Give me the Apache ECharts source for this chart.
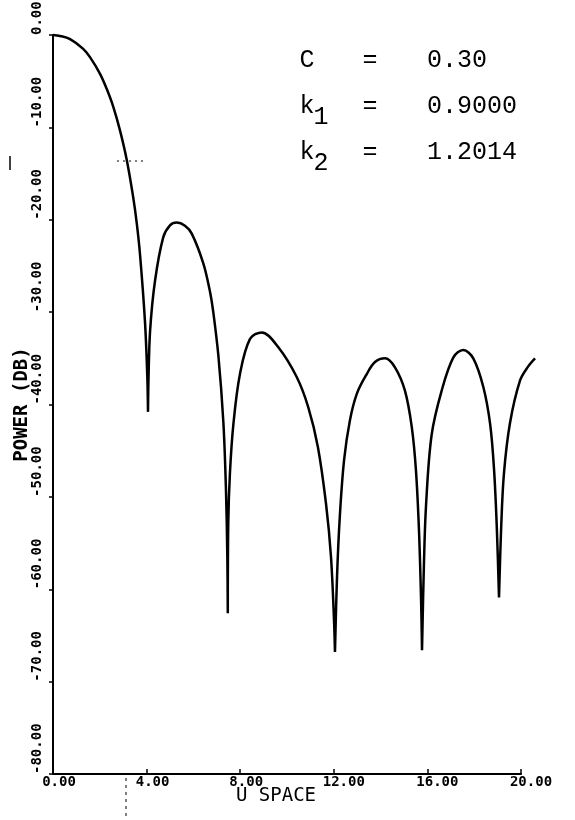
<!DOCTYPE html>
<html>
<head>
<meta charset="utf-8">
<script src="https://cdn.jsdelivr.net/npm/echarts@6/dist/echarts.min.js"></script>
<style>
html,body{margin:0;padding:0;background:#fff;}
#chart{width:575px;height:820px;}
</style>
</head>
<body>
<div id="chart"></div>
<script>
// U space positions (x) and power in dB (y)
var uValues = [
  0, 0.30, 0.73, 1.29, 1.58, 2.01, 2.29, 2.58, 2.86, 3.15, 3.43, 3.58, 3.72, 3.93, 4.03, 4.06,
  4.08, 4.15, 4.36, 4.71, 5.00, 5.29, 5.64, 5.93, 6.42, 6.71, 6.85, 7.07, 7.28, 7.39, 7.45, 7.47,
  7.49, 7.56, 7.71, 7.99, 8.42, 8.92, 9.63, 10.41, 10.91, 11.32, 11.67, 11.88, 12.01, 12.05,
  12.14, 12.26, 12.44, 12.69, 12.99, 13.41, 13.76, 14.19, 14.62, 15.04, 15.33, 15.51, 15.64, 15.73, 15.77,
  15.85, 15.94, 16.18, 16.61, 17.11, 17.53, 17.96, 18.39, 18.68, 18.85, 18.97, 19.06,
  19.15, 19.27, 19.53, 19.96, 20.30, 20.60
];
var powerDb = [
  0, -0.1, -0.45, -1.5, -2.4, -4.2, -5.8, -7.8, -10.3, -13.5, -17.6, -20.4, -23.8, -31.0, -37.0, -40.8,
  -37.4, -32.0, -26.6, -21.9, -20.6, -20.3, -20.65, -21.5, -24.7, -27.8, -30.0, -34.8, -41.9, -49.1, -56.5, -62.6,
  -52.9, -47.5, -42.1, -36.7, -32.9, -32.2, -33.8, -37.0, -40.3, -44.6, -50.8, -56.5, -63.4, -66.8,
  -58.5, -52.0, -46.0, -41.7, -38.8, -36.7, -35.4, -35.0, -36.0, -38.5, -42.4, -47.1, -53.6, -61.2, -66.6,
  -57.5, -51.0, -43.3, -38.5, -34.9, -34.1, -35.0, -38.1, -42.1, -47.1, -53.6, -60.9,
  -53.5, -47.5, -42.0, -37.4, -35.9, -35.0
];
var xTicks = [0, 4, 8, 12, 16, 20];
var yTicks = [0, -10, -20, -30, -40, -50, -60, -70, -80];
var paramNames = ['C', 'k', 'k'];
var paramSubs = ['', '1', '2'];
var paramValues = ['0.30', '0.9000', '1.2014'];

var chart = echarts.init(document.getElementById('chart'), null, {renderer: 'canvas'});

// split the curve at its nulls (local minima) so each lobe is smoothed on its own
var seriesData = [];
for (var i = 0; i < uValues.length; i++) {
  seriesData.push([uValues[i], powerDb[i]]);
  var isNull = i > 0 && i < uValues.length - 1 && powerDb[i] < powerDb[i - 1] && powerDb[i] < powerDb[i + 1];
  if (isNull) {
    seriesData.push('-');
    seriesData.push([uValues[i], powerDb[i]]);
  }
}

var xMin = xTicks[0], xMax = xTicks[xTicks.length - 1];
var yMin = yTicks[yTicks.length - 1], yMax = yTicks[0];
var uLast = uValues[uValues.length - 1];
var gridLeft = 53, gridRight = 54, gridTop = 35, gridBottom = 46;
var plotW = 575 - gridLeft - gridRight;
var dataGridW = plotW * (uLast - xMin) / (xMax - xMin);

var paramFont = '25px "Liberation Mono"';
var rowY = [60, 106, 152];
var graphics = [];
function txt(x, y, s, align) {
  return {type: 'text', x: x, y: y, silent: true,
    style: {text: s, font: paramFont, fill: '#000', align: align, verticalAlign: 'middle', textAlign: align, textVerticalAlign: 'middle'}};
}
for (var r = 0; r < paramNames.length; r++) {
  graphics.push(txt(307, rowY[r], paramNames[r], 'center'));
  if (paramSubs[r]) graphics.push(txt(321, rowY[r] + 11, paramSubs[r], 'center'));
  graphics.push(txt(370, rowY[r], '=', 'center'));
  graphics.push(txt(427, rowY[r], paramValues[r], 'left'));
}
// registration marks seen on the scan
graphics.push({type: 'line', silent: true, shape: {x1: 126, y1: 778, x2: 126, y2: 820},
  style: {stroke: '#000', lineWidth: 1, lineDash: [3, 4]}});
graphics.push({type: 'line', silent: true, shape: {x1: 117, y1: 161, x2: 143, y2: 161},
  style: {stroke: '#000', lineWidth: 1, lineDash: [2, 4]}});
graphics.push({type: 'line', silent: true, shape: {x1: 10, y1: 156, x2: 10, y2: 170},
  style: {stroke: '#000', lineWidth: 1.5}});

var xLabelStyle = {fontFamily: 'DejaVu Sans Mono', fontWeight: 'bold', fontSize: 14, color: '#000'};
var option = {
  animation: false,
  backgroundColor: '#fff',
  grid: [
    {left: gridLeft, right: gridRight, top: gridTop, bottom: gridBottom, containLabel: false, outerBoundsMode: 'none'},
    {left: gridLeft, width: dataGridW, top: gridTop, bottom: gridBottom, containLabel: false, outerBoundsMode: 'none'}
  ],
  xAxis: [{
    type: 'value', gridIndex: 0, min: xMin, max: xMax, interval: 4,
    splitLine: {show: false},
    axisLine: {show: true, onZero: false, lineStyle: {color: '#000', width: 2}},
    axisTick: {show: true, inside: true, length: 5, lineStyle: {color: '#000', width: 1.5}},
    axisLabel: {color: '#000', fontFamily: 'DejaVu Sans Mono', fontWeight: 'bold', fontSize: 14, margin: 1,
      formatter: function (v) { var s = v.toFixed(2); return '{p' + s.length + '|' + s + '}'; },
      rich: {
        p4: Object.assign({padding: [0, 0, 0, 12]}, xLabelStyle),
        p5: Object.assign({padding: [0, 0, 0, 20]}, xLabelStyle)
      }},
    name: 'U SPACE', nameLocation: 'middle', nameGap: 13, nameMoveOverlap: false,
    nameTextStyle: {color: '#000', fontFamily: 'DejaVu Sans Mono', fontSize: 19, verticalAlign: 'top', padding: [0, 22, 0, 0]}
  }, {
    type: 'value', gridIndex: 1, min: xMin, max: uLast, show: false
  }],
  yAxis: [{
    type: 'value', gridIndex: 0, min: yMin, max: yMax, interval: 10,
    splitLine: {show: false},
    axisLine: {show: true, onZero: false, lineStyle: {color: '#000', width: 2}},
    axisTick: {show: true, inside: false, length: 4, lineStyle: {color: '#000', width: 1.5}},
    axisLabel: {color: '#000', fontFamily: 'DejaVu Sans Mono', fontWeight: 'bold', fontSize: 14,
      rotate: 90, align: 'left', verticalAlign: 'bottom', margin: 9,
      formatter: function (v) { return v.toFixed(2); }},
    name: 'POWER (DB)', nameLocation: 'middle', nameRotate: 90, nameGap: 21, nameMoveOverlap: false,
    nameTextStyle: {color: '#000', fontFamily: 'DejaVu Sans Mono', fontWeight: 'bold', fontSize: 19}
  }, {
    type: 'value', gridIndex: 1, min: yMin, max: yMax, show: false
  }],
  series: [{
    type: 'line', xAxisIndex: 1, yAxisIndex: 1, data: seriesData, symbol: 'none',
    smooth: 0.35, connectNulls: false, clip: false,
    lineStyle: {color: '#000', width: 2.5}
  }],
  graphic: graphics
};
chart.setOption(option);
</script>
</body>
</html>
